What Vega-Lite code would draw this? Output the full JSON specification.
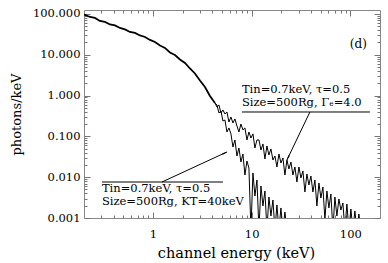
{
 "$schema": "https://vega.github.io/schema/vega-lite/v6.json",
 "width": 296, "height": 208,
 "autosize": {"type": "none"},
 "padding": {"left": 84, "top": 10, "right": 8, "bottom": 45},
 "background": "white",
 "config": {
   "view": {"stroke": "#888", "strokeWidth": 1},
   "axis": {"grid": false, "domain": false, "labelFont": "DejaVu Serif", "titleFont": "DejaVu Serif", "labelColor": "#000", "titleColor": "#000", "titleFontWeight": "normal", "tickColor": "#777", "labelFontSize": 11.5, "labelFlush": false, "labelOverlap": false}
 },
 "datasets": {
  "common": [
   {"e":0.2,"f":96},{"e":0.2047,"f":94.5},{"e":0.230,"f":84.4},{"e":0.258,"f":79.8},{"e":0.290,"f":67.3},{"e":0.326,"f":63.7},{"e":0.367,"f":55.3},{"e":0.412,"f":52.2},{"e":0.463,"f":45.4},{"e":0.520,"f":41.7},{"e":0.585,"f":36.2},{"e":0.657,"f":34.2},{"e":0.738,"f":29.7},{"e":0.830,"f":27.3},{"e":0.933,"f":23.1},{"e":1.048,"f":20.6},{"e":1.178,"f":16.9},{"e":1.323,"f":14.7},{"e":1.487,"f":11.4},{"e":1.671,"f":9.89},{"e":1.877,"f":7.67},{"e":2.110,"f":6.30},{"e":2.371,"f":4.61},{"e":2.664,"f":3.48},{"e":2.994,"f":2.34},{"e":3.365,"f":1.62},{"e":3.782,"f":0.977},{"e":4.249,"f":0.659}
  ],
  "branches": [
   {"s":"a","e":4.249,"f":0.659},{"s":"a","e":4.450,"f":0.526},{"s":"a","e":4.665,"f":0.588},{"s":"a","e":4.887,"f":0.375},{"s":"a","e":5.120,"f":0.444},{"s":"a","e":5.364,"f":0.354},{"s":"a","e":5.620,"f":0.396},{"s":"a","e":5.888,"f":0.225},{"s":"a","e":6.170,"f":0.299},{"s":"a","e":6.464,"f":0.213},{"s":"a","e":6.772,"f":0.267},{"s":"a","e":7.098,"f":0.180},{"s":"a","e":7.435,"f":0.128},{"s":"a","e":7.790,"f":0.201},{"s":"a","e":8.162,"f":0.144},{"s":"a","e":8.553,"f":0.161},{"s":"a","e":8.963,"f":0.0817},{"s":"a","e":9.389,"f":0.128},{"s":"a","e":9.838,"f":0.0914},{"s":"a","e":10.31,"f":0.115},{"s":"a","e":10.80,"f":0.0520},{"s":"a","e":11.32,"f":0.0817},{"s":"a","e":11.86,"f":0.0817},{"s":"a","e":12.43,"f":0.0464},{"s":"a","e":13.02,"f":0.0652},{"s":"a","e":13.64,"f":0.0279},{"s":"a","e":14.29,"f":0.0582},{"s":"a","e":14.97,"f":0.0350},{"s":"a","e":15.69,"f":0.0491},{"s":"a","e":16.44,"f":0.0264},{"s":"a","e":17.22,"f":0.0331},{"s":"a","e":18.05,"f":0.0178},{"s":"a","e":18.91,"f":0.0371},{"s":"a","e":19.81,"f":0.0223},{"s":"a","e":20.76,"f":0.0296},{"s":"a","e":21.75,"f":0.0113},{"s":"a","e":22.79,"f":0.0264},{"s":"a","e":23.87,"f":0.0159},{"s":"a","e":25.01,"f":0.0236},{"s":"a","e":26.21,"f":0.0113},{"s":"a","e":27.46,"f":0.0178},{"s":"a","e":28.77,"f":0.00762},{"s":"a","e":30.14,"f":0.0178},{"s":"a","e":31.59,"f":0.00955},{"s":"a","e":33.10,"f":0.0142},{"s":"a","e":34.67,"f":0.00434},{"s":"a","e":36.33,"f":0.0120},{"s":"a","e":38.07,"f":0.00644},{"s":"a","e":39.88,"f":0.0107},{"s":"a","e":41.79,"f":0.00434},{"s":"a","e":43.78,"f":0.00853},{"s":"a","e":45.87,"f":0.00197},{"s":"a","e":48.07,"f":0.00721},{"s":"a","e":50.36,"f":0.00309},{"s":"a","e":52.77,"f":0.00575},{"s":"a","e":55.29,"f":0.000893},{"s":"a","e":57.93,"f":0.00459},{"s":"a","e":60.70,"f":0.00176},{"s":"a","e":63.59,"f":0.00387},{"s":"a","e":66.63,"f":0.000508},{"s":"a","e":69.82,"f":0.00327},{"s":"a","e":73.15,"f":0.00112},{"s":"a","e":76.65,"f":0.00292},{"s":"a","e":80.31,"f":0.00157},{"s":"a","e":84.14,"f":0.00233},{"s":"a","e":88.16,"f":0.000508},{"s":"a","e":92.37,"f":0.00220},{"s":"a","e":96.78,"f":0.000508},{"s":"a","e":101.4,"f":0.00166},{"s":"a","e":106.2,"f":0.000508},{"s":"a","e":111.3,"f":0.00149},{"s":"a","e":116.7,"f":0.000508},{"s":"a","e":122.2,"f":0.00125},{"s":"a","e":128.1,"f":0.000508},
   {"s":"b","e":4.249,"f":0.659},{"s":"b","e":4.450,"f":0.588},{"s":"b","e":4.665,"f":0.375},{"s":"b","e":4.887,"f":0.419},{"s":"b","e":5.120,"f":0.238},{"s":"b","e":5.364,"f":0.252},{"s":"b","e":5.620,"f":0.128},{"s":"b","e":5.888,"f":0.161},{"s":"b","e":6.170,"f":0.115},{"s":"b","e":6.464,"f":0.0550},{"s":"b","e":6.772,"f":0.0817},{"s":"b","e":7.098,"f":0.0331},{"s":"b","e":7.435,"f":0.0520},{"s":"b","e":7.790,"f":0.0236},{"s":"b","e":8.162,"f":0.0371},{"s":"b","e":8.553,"f":0.0113},{"s":"b","e":8.963,"f":0.0249},{"s":"b","e":9.389,"f":0.0168},{"s":"b","e":9.838,"f":0.000508},{"s":"b","e":10.31,"f":0.0127},{"s":"b","e":10.80,"f":0.00346},{"s":"b","e":11.32,"f":0.00853},{"s":"b","e":11.86,"f":0.000508},{"s":"b","e":12.43,"f":0.00608},{"s":"b","e":13.02,"f":0.00197},{"s":"b","e":13.64,"f":0.00459},{"s":"b","e":14.29,"f":0.000508},{"s":"b","e":14.97,"f":0.00327},{"s":"b","e":15.69,"f":0.00112},{"s":"b","e":16.44,"f":0.00276},{"s":"b","e":17.22,"f":0.000508},{"s":"b","e":18.05,"f":0.00208},{"s":"b","e":18.91,"f":0.000508},{"s":"b","e":19.81,"f":0.00176},{"s":"b","e":20.76,"f":0.000508},{"s":"b","e":21.75,"f":0.00140},{"s":"b","e":22.79,"f":0.000508}
  ],
  "rules": [
   {"x1":7.97,"y1":0.396,"x2":158,"y2":0.396},
   {"x1":38.97,"y1":0.396,"x2":22.8,"y2":0.0264},
   {"x1":0.304,"y1":0.00762,"x2":5.12,"y2":0.00762},
   {"x1":1.234,"y1":0.00762,"x2":5.62,"y2":0.0415}
  ],
  "labels": [
   {"e":7.97,"f":1.40,"t":"Tin=0.7keV, τ=0.5"},
   {"e":7.97,"f":0.66,"t":"Size=500Rg, Γₑ=4.0"},
   {"e":0.304,"f":0.00514,"t":"Tin=0.7keV, τ=0.5"},
   {"e":0.304,"f":0.00247,"t":"Size=500Rg, KT=40keV"}
  ]
 },
 "resolve": {"axis": {"x": "independent", "y": "independent"}},
 "layer": [
  {
   "data": {"name": "common"},
   "mark": {"type": "line", "color": "#000", "strokeWidth": 1.8, "clip": true},
   "encoding": {
    "x": {"field": "e", "type": "quantitative", "scale": {"type": "log", "domain": [0.2, 200], "nice": false},
          "axis": {"orient": "bottom", "values": [1, 10, 100], "format": "d", "tickSize": -6, "labelPadding": 16, "labelBaseline": "top",
                   "title": "channel energy (keV)", "titleFontSize": 14.5, "titleX": 152, "titleY": 39, "titleAlign": "center", "titleBaseline": "alphabetic"}},
    "y": {"field": "f", "type": "quantitative", "scale": {"type": "log", "domain": [0.001, 125], "nice": false},
          "axis": {"orient": "left", "values": [0.001, 0.01, 0.1, 1, 10, 100], "format": ".3f", "tickSize": -6, "labelPadding": 10,
                   "title": "photons/keV", "titleFontSize": 13, "titleX": -63.5, "titleY": 104, "titleAngle": -90, "titleAlign": "center", "titleBaseline": "alphabetic"}}
   }
  },
  {
   "data": {"name": "branches"},
   "mark": {"type": "line", "color": "#000", "strokeWidth": 1, "clip": true},
   "encoding": {
    "x": {"field": "e", "type": "quantitative", "scale": {"type": "log", "domain": [0.2, 200], "nice": false},
          "axis": {"orient": "bottom", "values": [0.3,0.4,0.5,0.6,0.7,0.8,0.9,2,3,4,5,6,7,8,9,20,30,40,50,60,70,80,90], "tickSize": -3, "labels": false, "title": null}},
    "y": {"field": "f", "type": "quantitative", "scale": {"type": "log", "domain": [0.001, 125], "nice": false},
          "axis": {"orient": "left", "values": [0.002,0.003,0.004,0.005,0.006,0.007,0.008,0.009,0.02,0.03,0.04,0.05,0.06,0.07,0.08,0.09,0.2,0.3,0.4,0.5,0.6,0.7,0.8,0.9,2,3,4,5,6,7,8,9,20,30,40,50,60,70,80,90], "tickSize": -3, "labels": false, "title": null}},
    "detail": {"field": "s", "type": "nominal"}
   }
  },
  {
   "data": {"name": "rules"},
   "mark": {"type": "rule", "color": "#000", "strokeWidth": 1},
   "encoding": {
    "x": {"field": "x1", "type": "quantitative", "scale": {"type": "log", "domain": [0.2, 200], "nice": false},
          "axis": {"orient": "top", "values": [1, 10, 100], "tickSize": -6, "labels": false, "title": null}},
    "x2": {"field": "x2"},
    "y": {"field": "y1", "type": "quantitative", "scale": {"type": "log", "domain": [0.001, 125], "nice": false},
          "axis": {"orient": "right", "values": [0.001, 0.01, 0.1, 1, 10, 100], "tickSize": -6, "labels": false, "title": null}},
    "y2": {"field": "y2"}
   }
  },
  {
   "data": {"name": "labels"},
   "mark": {"type": "text", "align": "left", "baseline": "middle", "font": "DejaVu Serif", "fontSize": 11.5, "color": "#000"},
   "encoding": {
    "x": {"field": "e", "type": "quantitative", "scale": {"type": "log", "domain": [0.2, 200], "nice": false},
          "axis": {"orient": "top", "values": [0.3,0.4,0.5,0.6,0.7,0.8,0.9,2,3,4,5,6,7,8,9,20,30,40,50,60,70,80,90], "tickSize": -3, "labels": false, "title": null}},
    "y": {"field": "f", "type": "quantitative", "scale": {"type": "log", "domain": [0.001, 125], "nice": false},
          "axis": {"orient": "right", "values": [0.002,0.003,0.004,0.005,0.006,0.007,0.008,0.009,0.02,0.03,0.04,0.05,0.06,0.07,0.08,0.09,0.2,0.3,0.4,0.5,0.6,0.7,0.8,0.9,2,3,4,5,6,7,8,9,20,30,40,50,60,70,80,90], "tickSize": -3, "labels": false, "title": null}},
    "text": {"field": "t", "type": "nominal"}
   }
  },
  {
   "data": {"values": [{"e": 99, "f": 18.4, "t": "(d)"}]},
   "mark": {"type": "text", "align": "left", "baseline": "middle", "font": "DejaVu Serif", "fontSize": 12, "color": "#000"},
   "encoding": {
    "x": {"field": "e", "type": "quantitative", "scale": {"type": "log", "domain": [0.2, 200], "nice": false}, "axis": null},
    "y": {"field": "f", "type": "quantitative", "scale": {"type": "log", "domain": [0.001, 125], "nice": false}, "axis": null},
    "text": {"field": "t", "type": "nominal"}
   }
  },
  {
   "data": {"values": [{"e": 23.5, "f": 0.0308}]},
   "mark": {"type": "point", "shape": "wedge", "filled": true, "color": "#000", "opacity": 1, "size": 45, "angle": 205.6},
   "encoding": {
    "x": {"field": "e", "type": "quantitative", "scale": {"type": "log", "domain": [0.2, 200], "nice": false}, "axis": null},
    "y": {"field": "f", "type": "quantitative", "scale": {"type": "log", "domain": [0.001, 125], "nice": false}, "axis": null}
   }
  },
  {
   "data": {"values": [{"e": 5.28, "f": 0.0385}]},
   "mark": {"type": "point", "shape": "wedge", "filled": true, "color": "#000", "opacity": 1, "size": 45, "angle": 65.2},
   "encoding": {
    "x": {"field": "e", "type": "quantitative", "scale": {"type": "log", "domain": [0.2, 200], "nice": false}, "axis": null},
    "y": {"field": "f", "type": "quantitative", "scale": {"type": "log", "domain": [0.001, 125], "nice": false}, "axis": null}
   }
  }
 ]
}
